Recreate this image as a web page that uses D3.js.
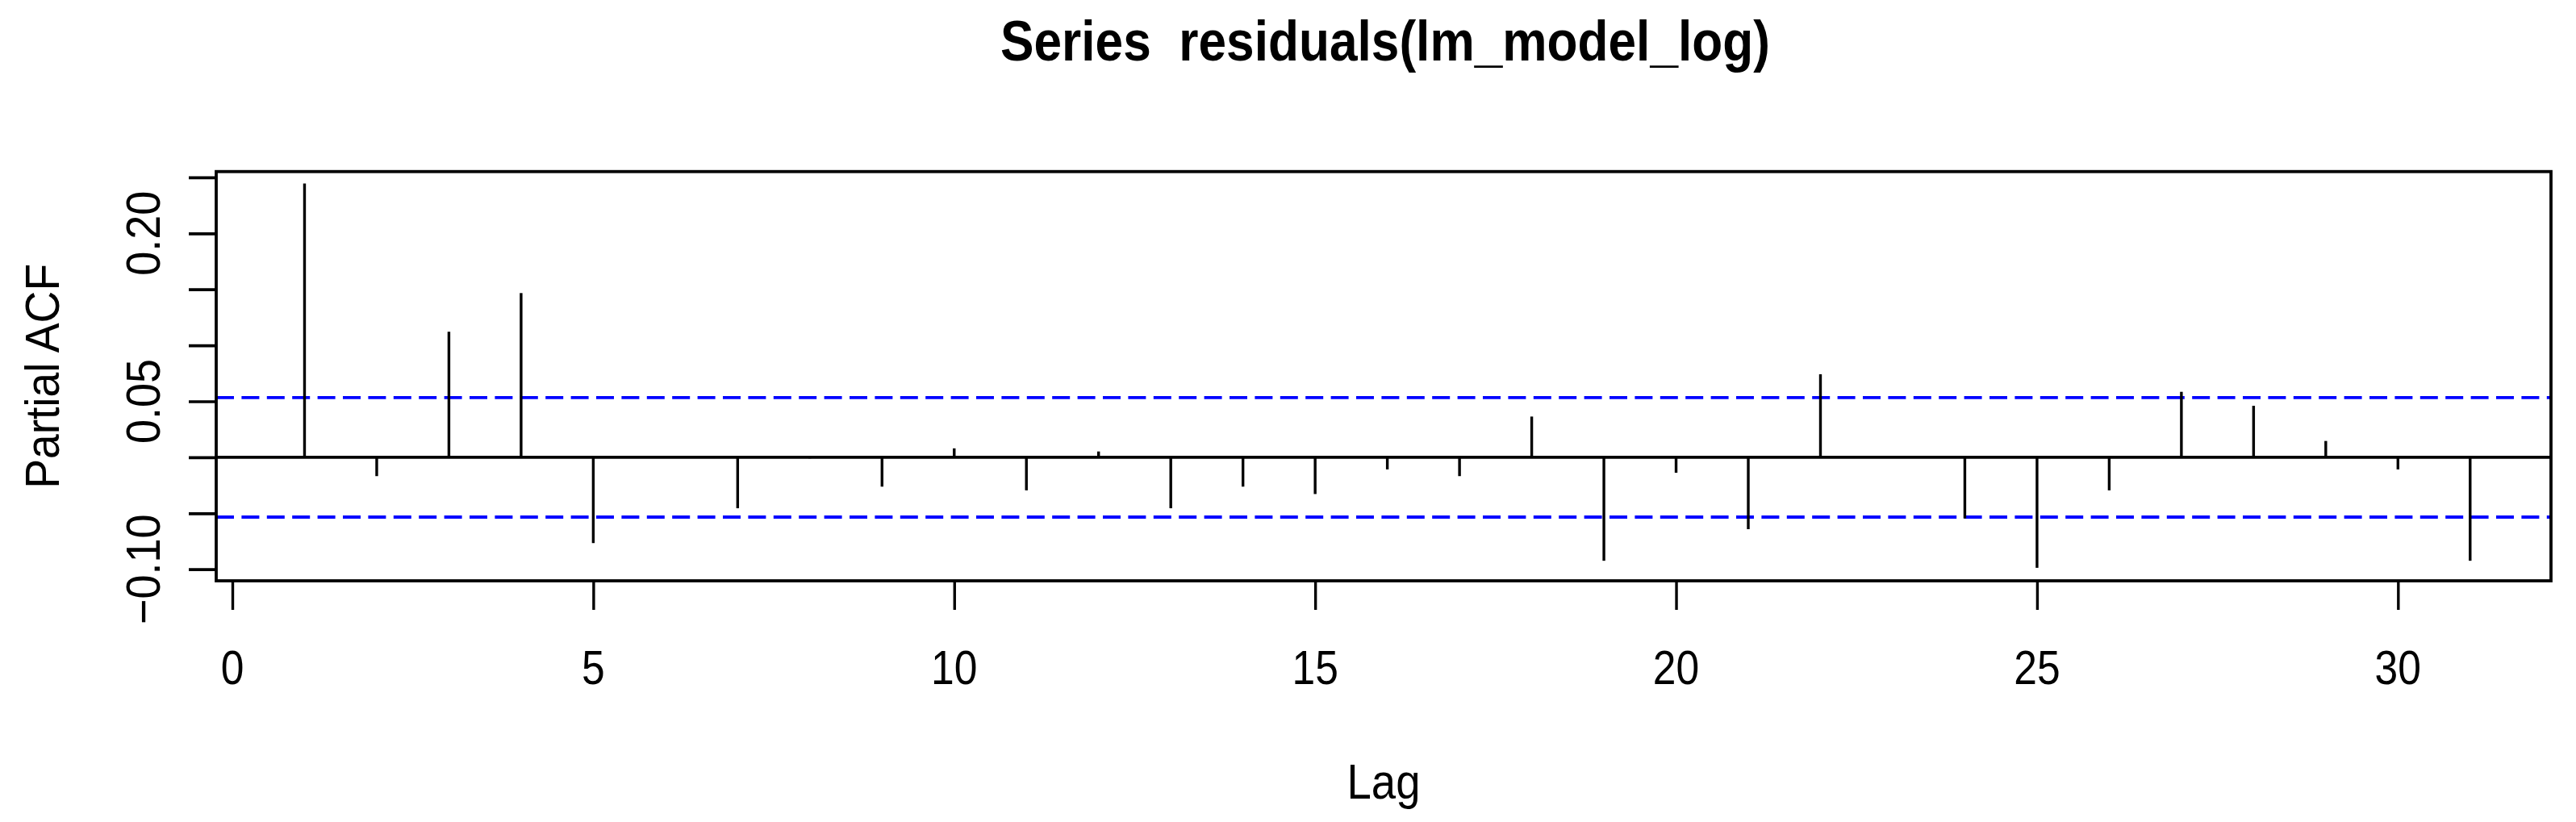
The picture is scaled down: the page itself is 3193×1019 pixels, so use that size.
<!DOCTYPE html>
<html>
<head>
<meta charset="utf-8">
<script src="https://cdn.jsdelivr.net/npm/d3@7"></script>
<style>
    body { margin: 0; background: #fff; }
    #pacf-plot { width: 3193px; height: 1019px; }
    text { font-family: "Liberation Sans", Arial, sans-serif; fill: #000; white-space: pre; }
</style>
</head>
<body>
<div id="pacf-plot"></div>
<script>
// Chart data
const lags = d3.range(1, 32);
const pacfValues = [
    0.2446, -0.0168, 0.1122, 0.1467, -0.0766, 0.001, -0.0455, -0.001,
    -0.0262, 0.008, -0.0295, 0.0052, -0.0455, -0.0262, -0.0328, -0.0108,
    -0.0168, 0.0364, -0.0924, -0.0138, -0.0642, 0.0742, 0.001, -0.0546,
    -0.0987, -0.0295, 0.0585, 0.046, 0.0146, -0.0108, -0.0924
];
const ciBound = 0.0534;
const xTicks = [0, 5, 10, 15, 20, 25, 30];
const yTicks = [-0.10, -0.05, 0, 0.05, 0.10, 0.15, 0.20, 0.25];
const yTickLabels = [0.20, 0.05, -0.10];
const title = 'Series  residuals(lm_model_log)';

document.addEventListener('DOMContentLoaded', () => {
    const width = 3193, height = 1019;
    // plot box in page pixels
    const box = { left: 268, right: 3162, top: 212.7, bottom: 720 };

    const svg = d3.select('#pacf-plot')
        .append('svg')
        .attr('width', width)
        .attr('height', height)
        .attr('viewBox', `0 0 ${width} ${height}`);

    svg.append('rect').attr('width', width).attr('height', height).attr('fill', '#fff');

    const xScale = d3.scaleLinear()
        .domain([-0.2235, 32.12])
        .range([box.left, box.right]);

    const yScale = d3.scaleLinear()
        .domain([-0.1103, 0.2552])
        .range([box.bottom, box.top]);

    // zero line
    svg.append('line')
        .attr('x1', box.left).attr('x2', box.right)
        .attr('y1', yScale(0)).attr('y2', yScale(0))
        .attr('stroke', '#000').attr('stroke-width', 3.7);

    // confidence bounds
    svg.selectAll('.ci-line')
        .data([ciBound, -ciBound])
        .enter()
        .append('line')
        .attr('class', 'ci-line')
        .attr('x1', box.left).attr('x2', box.right)
        .attr('y1', d => yScale(d)).attr('y2', d => yScale(d))
        .attr('stroke', '#0000ff')
        .attr('stroke-width', 3.8)
        .attr('stroke-dasharray', '22,9.4');

    // spikes
    svg.selectAll('.spike')
        .data(lags.map((l, i) => ({ lag: l, value: pacfValues[i] })))
        .enter()
        .append('line')
        .attr('class', 'spike')
        .attr('x1', d => xScale(d.lag)).attr('x2', d => xScale(d.lag))
        .attr('y1', yScale(0))
        .attr('y2', d => yScale(d.value))
        .attr('stroke', '#000')
        .attr('stroke-width', 3.4);

    // x axis (ticks only, labels drawn separately)
    svg.append('g')
        .attr('class', 'x-axis')
        .attr('transform', `translate(0,${box.bottom})`)
        .call(d3.axisBottom(xScale).tickValues(xTicks).tickSize(36).tickFormat(''))
        .call(g => g.select('.domain').remove())
        .call(g => g.selectAll('.tick line').attr('stroke', '#000').attr('stroke-width', 3.4));

    svg.append('g')
        .attr('class', 'y-axis')
        .attr('transform', `translate(${box.left},0)`)
        .call(d3.axisLeft(yScale).tickValues(yTicks).tickSize(34).tickFormat(''))
        .call(g => g.select('.domain').remove())
        .call(g => g.selectAll('.tick line').attr('stroke', '#000').attr('stroke-width', 3.7));

    // plot box
    svg.append('rect')
        .attr('x', box.left).attr('y', box.top)
        .attr('width', box.right - box.left)
        .attr('height', box.bottom - box.top)
        .attr('fill', 'none')
        .attr('stroke', '#000')
        .attr('stroke-width', 3.8);

    // x tick labels
    svg.selectAll('.x-label-tick')
        .data(xTicks)
        .enter()
        .append('text')
        .attr('class', 'x-label-tick')
        .attr('transform', d => `translate(${xScale(d)},848) scale(0.86,1)`)
        .attr('text-anchor', 'middle')
        .style('font-size', '60px')
        .text(d => d);

    // y tick labels, rotated like R
    svg.selectAll('.y-label-tick')
        .data(yTickLabels)
        .enter()
        .append('text')
        .attr('class', 'y-label-tick')
        .attr('transform', d => `translate(198,${yScale(d)}) rotate(-90) scale(0.9,1)`)
        .attr('text-anchor', 'middle')
        .style('font-size', '60px')
        .text(d => d3.format('.2f')(d));

    // axis titles
    svg.append('text')
        .attr('transform', `translate(${(box.left + box.right) / 2},990) scale(0.88,1)`)
        .attr('text-anchor', 'middle')
        .style('font-size', '62px')
        .text('Lag');

    svg.append('text')
        .attr('transform', `translate(73,${(box.top + box.bottom) / 2}) rotate(-90) scale(0.92,1)`)
        .attr('text-anchor', 'middle')
        .style('font-size', '60px')
        .text('Partial ACF');

    // chart title
    svg.append('text')
        .attr('transform', `translate(1717,75) scale(0.876,1)`)
        .attr('text-anchor', 'middle')
        .style('font-size', '71px')
        .style('font-weight', 'bold')
        .text(title);
});
</script>
</body>
</html>
